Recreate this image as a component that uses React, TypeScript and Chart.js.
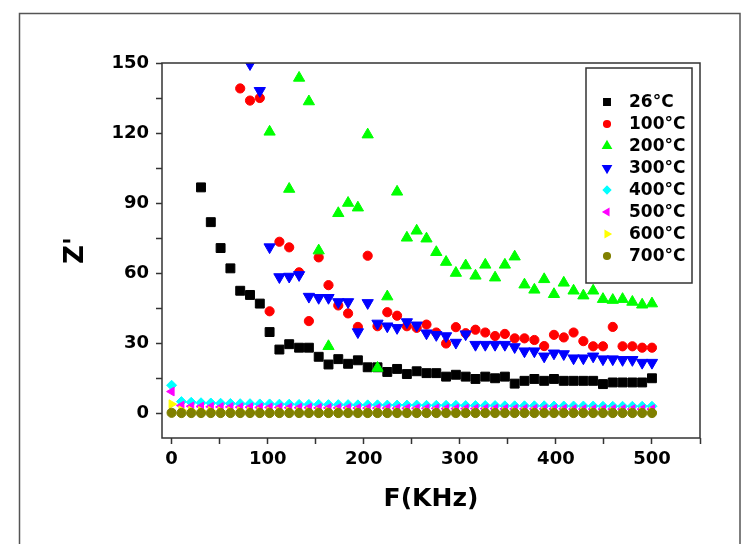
import React, { useEffect, useRef } from 'react';
import { Chart, registerables } from 'chart.js';
import { drawPoint } from 'chart.js/helpers';

Chart.register(...registerables);

// Frequency sweep (kHz)
const FREQ_KHZ = [0, 10.2, 20.4, 30.6, 40.8, 51, 61.2, 71.4, 81.6, 91.8, 102, 112.2, 122.4, 132.7, 142.9, 153.1, 163.3, 173.5, 183.7, 193.9, 204.1, 214.3, 224.5, 234.7, 244.9, 255.1, 265.3, 275.5, 285.7, 295.9, 306.1, 316.3, 326.5, 336.7, 346.9, 357.1, 367.3, 377.6, 387.8, 398, 408.2, 418.4, 428.6, 438.8, 449, 459.2, 469.4, 479.6, 489.8, 500];

const SERIES_LABELS = ['26°C', '100°C', '200°C', '300°C', '400°C', '500°C', '600°C', '700°C'];

// Axis tick positions (labelled ones are multiples of 100 / 30)
const X_TICKS = [0, 50, 100, 150, 200, 250, 300, 350, 400, 450, 500, 550];
const X_LABELS = ['0', '', '100', '', '200', '', '300', '', '400', '', '500', ''];
const Y_TICKS = [0, 15, 30, 45, 60, 75, 90, 105, 120, 135, 150];
const Y_LABELS = ['0', '', '30', '', '60', '', '90', '', '120', '', '150'];

const Z_26 = [null, null, null, 96.7, 81.8, 70.7, 62, 52.4, 50.6, 46.9, 34.7, 27.2, 29.5, 28, 28, 24.1, 20.8, 23.1, 21.1, 22.6, 19.6, 19.6, 17.6, 18.9, 16.7, 17.9, 17.1, 17.1, 15.6, 16.4, 15.6, 14.6, 15.6, 14.9, 15.6, 12.6, 13.8, 14.6, 13.8, 14.6, 13.8, 13.8, 13.8, 13.8, 12.4, 13.1, 13.1, 13.1, 13.1, 14.9];
const Z_100 = [null, null, null, null, null, null, null, 139.1, 133.9, 135, 43.6, 73.4, 71, 60.3, 39.4, 66.7, 54.8, 46.1, 42.7, 36.9, 67.4, 37.2, 43.2, 41.7, 37.2, 36.5, 37.9, 34.5, 29.8, 36.8, 34.2, 35.7, 34.5, 33, 33.9, 32, 32, 31.3, 28.7, 33.5, 32.4, 34.5, 30.8, 28.6, 28.6, 36.9, 28.6, 28.6, 28, 28];
const Z_200 = [null, null, null, null, null, null, null, null, null, null, 120.5, null, 96, 143.6, 133.5, 69.6, 28.6, 85.6, 90, 88, 119.3, 19.3, 49.9, 94.8, 75.1, 78.1, 74.7, 68.9, 64.7, 60, 63.2, 58.8, 63.5, 58, 63.5, 67, 55, 52.8, 57.3, 50.9, 55.8, 52.4, 50.3, 52.4, 48.8, 48.4, 48.8, 47.6, 46.4, 46.9];
const Z_300 = [null, null, null, null, null, null, null, null, 149.6, 138.1, 71.1, 58.3, 58.5, 59.2, 49.9, 49.4, 49.4, 47.6, 47.6, 34.7, 47.2, 38.4, 37.2, 36.5, 39, 37.6, 34.2, 33.5, 33, 30.2, 33.8, 29.3, 29.3, 29.3, 29.3, 28.3, 26.5, 26.5, 24.3, 25.6, 25.3, 23.5, 23.5, 24.3, 23.1, 23.1, 22.8, 22.8, 21.6, 21.6];
const Z_400 = [11.9, 4.9, 4.6, 4.4, 4.3, 4.2, 4.1, 4.0, 4.0, 3.9, 3.9, 3.8, 3.8, 3.7, 3.7, 3.7, 3.6, 3.6, 3.6, 3.5, 3.5, 3.5, 3.4, 3.4, 3.4, 3.4, 3.3, 3.3, 3.3, 3.3, 3.2, 3.2, 3.2, 3.2, 3.1, 3.1, 3.1, 3.1, 3.1, 3.0, 3.0, 3.0, 3.0, 3.0, 2.9, 2.9, 2.9, 2.9, 2.9, 2.9];
const Z_500 = [9.2, 3.2, 2.9, 2.8, 2.7, 2.6, 2.6, 2.5, 2.5, 2.4, 2.4, 2.4, 2.3, 2.3, 2.3, 2.2, 2.2, 2.2, 2.2, 2.1, 2.1, 2.1, 2.1, 2.0, 2.0, 2.0, 2.0, 2.0, 1.9, 1.9, 1.9, 1.9, 1.9, 1.9, 1.8, 1.8, 1.8, 1.8, 1.8, 1.8, 1.8, 1.7, 1.7, 1.7, 1.7, 1.7, 1.7, 1.7, 1.7, 1.7];
const Z_600 = [3.8, 1.2, 1.0, 0.9, 0.9, 0.8, 0.8, 0.8, 0.7, 0.7, 0.7, 0.7, 0.7, 0.6, 0.6, 0.6, 0.6, 0.6, 0.6, 0.6, 0.6, 0.6, 0.5, 0.5, 0.5, 0.5, 0.5, 0.5, 0.5, 0.5, 0.5, 0.5, 0.5, 0.5, 0.5, 0.5, 0.5, 0.5, 0.5, 0.5, 0.5, 0.5, 0.5, 0.5, 0.5, 0.5, 0.5, 0.5, 0.5, 0.5];
const Z_700 = [0.1, 0.0, 0.0, 0.0, 0.0, 0.0, 0.0, 0.0, 0.0, 0.0, 0.0, 0.0, 0.0, 0.0, 0.0, 0.0, 0.0, 0.0, 0.0, 0.0, 0.0, 0.0, 0.0, 0.0, 0.0, 0.0, 0.0, 0.0, 0.0, 0.0, 0.0, 0.0, 0.0, 0.0, 0.0, 0.0, 0.0, 0.0, 0.0, 0.0, 0.0, 0.0, 0.0, 0.0, 0.0, 0.0, 0.0, 0.0, 0.0, 0.0];

const SERIES_VALUES = [Z_26, Z_100, Z_200, Z_300, Z_400, Z_500, Z_600, Z_700];

const STYLES = [
  { color: '#000000', pointStyle: 'rect', radius: 6.3, rotation: 0 },
  { color: '#ff0000', pointStyle: 'circle', radius: 4.6, rotation: 0 },
  { color: '#00ff00', pointStyle: 'triangle', radius: 6.5, rotation: 0 },
  { color: '#0000ff', pointStyle: 'triangle', radius: 6.5, rotation: 180 },
  { color: '#00ffff', pointStyle: 'rectRot', radius: 5, rotation: 0 },
  { color: '#ff00ff', pointStyle: 'triangle', radius: 5, rotation: 270 },
  { color: '#ffff00', pointStyle: 'triangle', radius: 5, rotation: 90 },
  { color: '#808000', pointStyle: 'circle', radius: 4.6, rotation: 0 },
];

const FONT = 'DejaVu Sans';

const framePlugin = {
  id: 'frame',
  afterDraw(chart: any) {
    const { ctx, chartArea: ca } = chart;
    ctx.save();
    ctx.strokeStyle = '#333';
    ctx.lineWidth = 1.5;
    ctx.strokeRect(ca.left, ca.top, ca.right - ca.left, ca.bottom - ca.top);
    ctx.strokeStyle = '#555';
    ctx.lineWidth = 1.5;
    ctx.beginPath();
    ctx.moveTo(19.5, chart.height);
    ctx.lineTo(19.5, 13.5);
    ctx.lineTo(740, 13.5);
    ctx.lineTo(740, chart.height);
    ctx.stroke();
    ctx.restore();
  },
};

const legendPlugin = {
  id: 'boxLegend',
  afterDraw(chart: any) {
    const { ctx, chartArea: ca } = chart;
    const left = ca.right - 114;
    const top = ca.top + 5;
    const w = 106;
    const h = 215;
    ctx.save();
    ctx.fillStyle = '#fff';
    ctx.fillRect(left, top, w, h);
    ctx.strokeStyle = '#333';
    ctx.lineWidth = 1.5;
    ctx.strokeRect(left, top, w, h);
    ctx.font = `bold 17px "${FONT}"`;
    ctx.textBaseline = 'middle';
    ctx.textAlign = 'left';
    chart.data.datasets.forEach((ds: any, i: number) => {
      const y = top + 34 + i * 22;
      const x = left + 21;
      ctx.fillStyle = ds.pointBackgroundColor;
      ctx.strokeStyle = ds.pointBorderColor;
      drawPoint(ctx, { pointStyle: ds.pointStyle, rotation: ds.pointRotation, radius: ds.pointRadius * 0.72, borderWidth: 1 }, x, y);
      ctx.fillStyle = '#000';
      ctx.fillText(ds.label, left + 43, y + 1);
    });
    ctx.restore();
  },
};

export default function App() {
  const ref = useRef<HTMLCanvasElement>(null);
  useEffect(() => {
    document.body.style.margin = '0';
    const datasets = SERIES_VALUES.map((vals, i) => ({
      label: SERIES_LABELS[i],
      data: FREQ_KHZ.map((f, j) => ({ x: f, y: vals[j] })).filter((p) => p.y !== null),
      showLine: false,
      pointStyle: STYLES[i].pointStyle,
      pointRotation: STYLES[i].rotation,
      pointRadius: STYLES[i].radius,
      pointHoverRadius: STYLES[i].radius,
      pointBackgroundColor: STYLES[i].color,
      pointBorderColor: STYLES[i].color,
      pointBorderWidth: 1,
      order: SERIES_VALUES.length - 1 - i,
    }));
    const tickFont = { family: FONT, weight: 'bold' as const, size: 18 };
    const chart = new Chart(ref.current!, {
      type: 'scatter',
      data: { datasets: datasets as any },
      options: {
        animation: false,
        responsive: true,
        maintainAspectRatio: false,
        layout: { padding: { left: 0, top: 63, right: 42, bottom: 0 } },
        plugins: { legend: { display: false }, tooltip: { enabled: false } },
        scales: {
          x: {
            type: 'linear',
            min: -10,
            max: 550,
            afterFit: (s: any) => { s.height = 106; },
            afterBuildTicks: (s: any) => { s.ticks = X_TICKS.map((v) => ({ value: v })); },
            ticks: {
              autoSkip: false,
              maxRotation: 0,
              padding: 5,
              color: '#000',
              font: tickFont,
              callback: (_v: any, idx: number) => X_LABELS[idx],
            },
            grid: { drawOnChartArea: false, drawTicks: true, tickLength: 6, tickColor: '#333', tickWidth: 1.5 },
            border: { display: false },
            title: {
              display: true,
              text: 'F(KHz)',
              color: '#000',
              font: { family: FONT, weight: 'bold', size: 25 },
              padding: { top: 0, bottom: 30 },
            },
          },
          y: {
            type: 'linear',
            min: -10.7,
            max: 150,
            afterFit: (s: any) => { s.width = 162; },
            afterBuildTicks: (s: any) => { s.ticks = Y_TICKS.map((v) => ({ value: v })); },
            ticks: {
              autoSkip: false,
              padding: 7,
              color: '#000',
              font: tickFont,
              callback: (_v: any, idx: number) => Y_LABELS[idx],
            },
            grid: { drawOnChartArea: false, drawTicks: true, tickLength: 6, tickColor: '#333', tickWidth: 1.5 },
            border: { display: false },
            title: {
              display: true,
              text: "Z'",
              color: '#000',
              font: { family: FONT, weight: 'bold', size: 26 },
              padding: { top: 61, bottom: 0 },
            },
          },
        },
      },
      plugins: [framePlugin, legendPlugin],
    });
    return () => chart.destroy();
  }, []);
  return (
    <div style={{ width: 742, height: 544, position: 'relative' }}>
      <canvas ref={ref} />
    </div>
  );
}
